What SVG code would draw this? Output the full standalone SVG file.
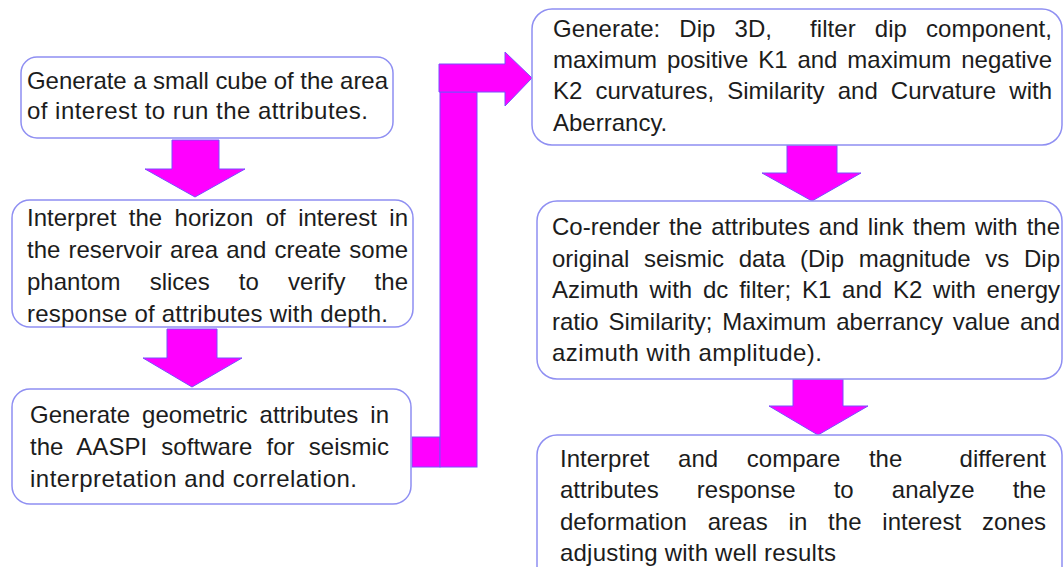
<svg xmlns="http://www.w3.org/2000/svg" width="1063" height="567" viewBox="0 0 1063 567">
  <style>
    .box { fill: #ffffff; stroke: #8f8ff2; stroke-width: 1.5; }
    .arrow { fill: #ff00ff; stroke: #7b4dff; stroke-width: 1; stroke-linejoin: miter; }
    .txt { font-family: "Liberation Sans", Arial, sans-serif; font-size: 24px; fill: #1c1c1c; }
  </style>
  <rect width="1063" height="567" fill="#ffffff"/>

  <!-- connectors: block arrows between steps -->
  <g id="connectors">
    <polygon class="arrow" points="172,140 219,140 219,169 245,169 195,197 145,169 172,169"/>
    <polygon class="arrow" points="167,329 217,329 217,358 242,358 192,387 143,358 167,358"/>
    <rect class="arrow" x="412" y="437" width="28" height="30"/>
    <rect class="arrow" x="440" y="92" width="37" height="375"/>
    <polygon class="arrow" points="439,64 505,64 505,52 532,78 505,106 505,92 439,92"/>
    <polygon class="arrow" points="787,145 837,145 837,173 861,173 812,201 762,173 787,173"/>
    <polygon class="arrow" points="793,379 843,379 843,406 868,406 818,435 769,406 793,406"/>
  </g>

  <g id="step1">
    <rect class="box" x="21" y="57" width="372" height="81" rx="16"/>
    <text class="txt" x="27" y="89" textLength="361" lengthAdjust="spacing">Generate a small cube of the area</text>
    <text class="txt" x="27" y="119" textLength="341" lengthAdjust="spacing">of interest to run the attributes.</text>
  </g>

  <g id="step2">
    <rect class="box" x="12" y="200" width="401" height="127" rx="18"/>
    <text class="txt" x="27" y="226" word-spacing="5.76" textLength="381" lengthAdjust="spacing">Interpret the horizon of interest in</text>
    <text class="txt" x="27" y="258" word-spacing="1.5" textLength="381" lengthAdjust="spacing">the reservoir area and create some</text>
    <text class="txt" x="27" y="290" word-spacing="22.5" textLength="381" lengthAdjust="spacing">phantom slices to verify the</text>
    <text class="txt" x="27" y="322" textLength="361" lengthAdjust="spacing">response of attributes with depth.</text>
  </g>

  <g id="step3">
    <rect class="box" x="12" y="389" width="399" height="115" rx="18"/>
    <text class="txt" x="30" y="423" word-spacing="5.4" textLength="359" lengthAdjust="spacing">Generate geometric attributes in</text>
    <text class="txt" x="30" y="455" word-spacing="7.4" textLength="359" lengthAdjust="spacing">the AASPI software for seismic</text>
    <text class="txt" x="30" y="487" textLength="327" lengthAdjust="spacing">interpretation and correlation.</text>
  </g>

  <g id="step4">
    <rect class="box" x="532" y="9" width="530" height="136" rx="20"/>
    <text class="txt" x="553" y="37" xml:space="preserve" word-spacing="12.3" textLength="499" lengthAdjust="spacing">Generate: Dip 3D,  filter dip component,</text>
    <text class="txt" x="553" y="68" word-spacing="3.24" textLength="499" lengthAdjust="spacing">maximum positive K1 and maximum negative</text>
    <text class="txt" x="553" y="99" word-spacing="6.44" textLength="499" lengthAdjust="spacing">K2 curvatures, Similarity and Curvature with</text>
    <text class="txt" x="553" y="131">Aberrancy.</text>
  </g>

  <g id="step5">
    <rect class="box" x="537" y="201" width="525" height="178" rx="20"/>
    <text class="txt" x="552" y="235" word-spacing="2.26" textLength="508" lengthAdjust="spacing">Co-render the attributes and link them with the</text>
    <text class="txt" x="552" y="267" word-spacing="7.98" textLength="508" lengthAdjust="spacing">original seismic data (Dip magnitude vs Dip</text>
    <text class="txt" x="552" y="298" word-spacing="4.14" textLength="508" lengthAdjust="spacing">Azimuth with dc filter; K1 and K2 with energy</text>
    <text class="txt" x="552" y="330" word-spacing="3.18" textLength="508" lengthAdjust="spacing">ratio Similarity; Maximum aberrancy value and</text>
    <text class="txt" x="552" y="361" textLength="270" lengthAdjust="spacing">azimuth with amplitude).</text>
  </g>

  <g id="step6">
    <rect class="box" x="537" y="435" width="525" height="160" rx="20"/>
    <text class="txt" x="560" y="467" xml:space="preserve" word-spacing="21.96" textLength="486" lengthAdjust="spacing">Interpret and compare the  different</text>
    <text class="txt" x="560" y="498" word-spacing="31.45" textLength="486" lengthAdjust="spacing">attributes response to analyze the</text>
    <text class="txt" x="560" y="530" word-spacing="14.2" textLength="486" lengthAdjust="spacing">deformation areas in the interest zones</text>
    <text class="txt" x="560" y="561" textLength="276" lengthAdjust="spacing">adjusting with well results</text>
  </g>
</svg>
